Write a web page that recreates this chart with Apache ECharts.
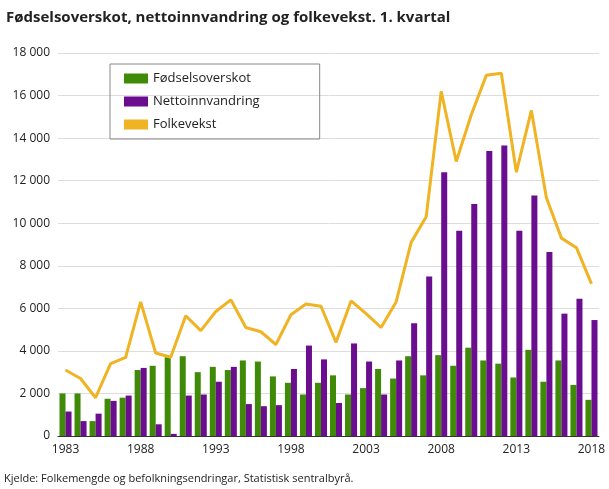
<!DOCTYPE html>
<html>
<head>
<meta charset="utf-8" />
<script src="https://cdn.jsdelivr.net/npm/echarts@6/dist/echarts.min.js"></script>
<style>
body { margin: 0; background: #fff; font-family: "Open Sans", sans-serif; }
#title { position: absolute; left: 6px; top: 6px; font-size: 15px; font-weight: bold; color: #222; }
#chart { position: absolute; left: 0; top: 0; width: 609px; height: 489px; }
#src { position: absolute; left: 4px; top: 470px; font-size: 11px; color: #222; }
</style>
</head>
<body>
<div id="chart"></div>
<div id="title">Fødselsoverskot, nettoinnvandring og folkevekst. 1. kvartal</div>
<div id="src">Kjelde: Folkemengde og befolkningsendringar, Statistisk sentralbyrå.</div>
<script>
var years = [];
for (var y = 1983; y <= 2018; y++) years.push(String(y));
var fodsel = [2000,2000,700,1750,1800,3100,3300,3700,3750,3000,3250,3100,3550,3500,2800,2500,1950,2500,2850,1950,2250,3150,2700,3750,2850,3800,3300,4150,3550,3400,2750,4050,2550,3550,2400,1700];
var netto = [1150,700,1050,1650,1900,3200,550,100,1900,1950,2550,3250,1500,1400,1450,3150,4250,3600,1550,4350,3500,1950,3550,5300,7500,12400,9650,10900,13400,13650,9650,11300,8650,5750,6450,5450];
var folk = [3100,2700,1800,3400,3700,6300,3900,3700,5650,4950,5850,6400,5100,4900,4300,5700,6200,6100,4400,6350,5750,5100,6300,9100,10300,16200,12900,15100,16950,17050,12400,15300,11200,9300,8850,7150];

var chart = echarts.init(document.getElementById('chart'));
chart.setOption({
	animation: false,
	textStyle: { fontFamily: 'Open Sans' },
	grid: { left: 58, right: 10, top: 53, bottom: 53 },
	legend: {
		left: 110, top: 64, orient: 'vertical', itemGap: 10,
		padding: [8, 60, 8, 14], borderColor: '#888', borderWidth: 1,
		itemWidth: 24, itemHeight: 10,
		textStyle: { fontSize: 13, color: '#222' },
		data: [
			{ name: 'Fødselsoverskot', icon: 'rect' },
			{ name: 'Nettoinnvandring', icon: 'rect' },
			{ name: 'Folkevekst', icon: 'rect', itemStyle: { color: '#f0b323' } }
		]
	},
	xAxis: {
		type: 'category', data: years,
		axisLine: { lineStyle: { color: '#333' } },
		axisTick: { show: false },
		axisLabel: { interval: function (i, v) { return (+v - 1983) % 5 === 0; }, color: '#222', fontSize: 12 }
	},
	yAxis: {
		type: 'value', min: 0, max: 18000, interval: 2000,
		axisLabel: { color: '#222', fontSize: 12, formatter: function (v) { return String(v).replace(/\B(?=(\d{3})+(?!\d))/g, ' '); } },
		splitLine: { lineStyle: { color: '#ddd' } }
	},
	series: [
		{ name: 'Fødselsoverskot', type: 'bar', data: fodsel, itemStyle: { color: '#3f8a06' }, barGap: '0%', barCategoryGap: '20%' },
		{ name: 'Nettoinnvandring', type: 'bar', data: netto, itemStyle: { color: '#6a0d8e' } },
		{ name: 'Folkevekst', type: 'line', data: folk, symbol: 'none', lineStyle: { color: '#f0b323', width: 3 }, itemStyle: { color: '#f0b323' } }
	]
});
</script>
</body>
</html>
